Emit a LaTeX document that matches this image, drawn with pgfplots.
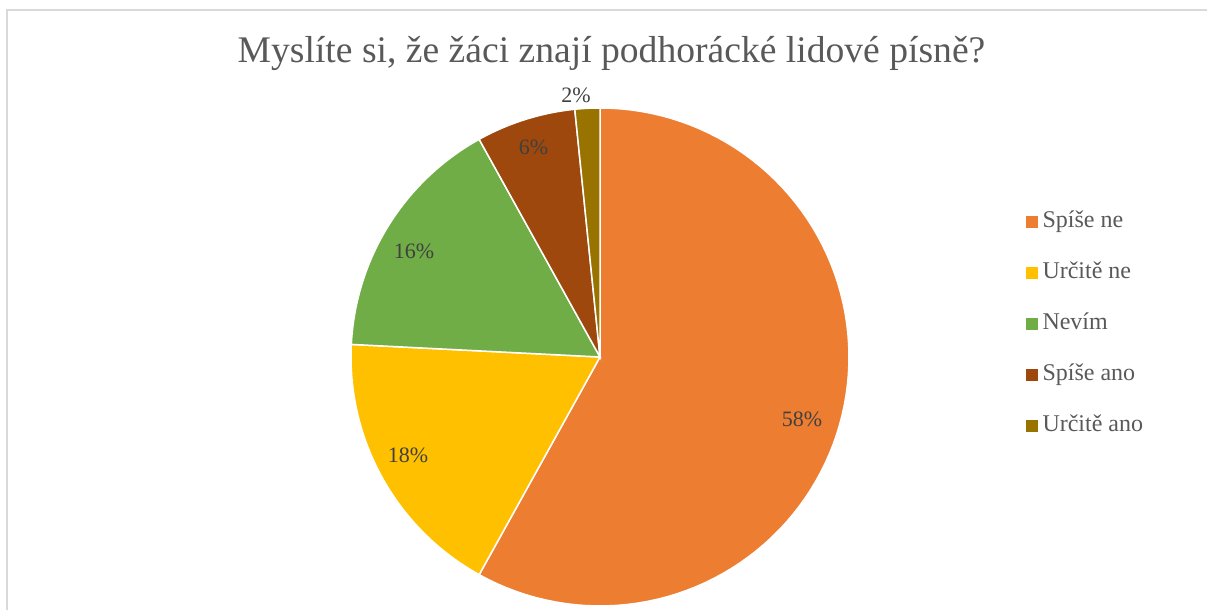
\documentclass[border=0pt]{standalone}
\usepackage{fontspec}
\setmainfont{Liberation Serif}
\usepackage{pgfplots}
\usepackage{pgfplotstable}
\pgfplotsset{compat=1.18}
\definecolor{c0}{HTML}{ED7D31}
\definecolor{c1}{HTML}{FFC000}
\definecolor{c2}{HTML}{70AD47}
\definecolor{c3}{HTML}{9E480E}
\definecolor{c4}{HTML}{997300}
\definecolor{txt}{HTML}{595959}
\definecolor{lbl}{HTML}{404040}
\definecolor{frame}{HTML}{D9D9D9}
% label: category; count: answers; pct: shown percent; lx, lb: label position (px, baseline)
\pgfplotstableread[col sep=comma]{
label,count,pct,lx,lb
Spíše ne,36,58,802,183
Určitě ne,11,18,408,147.3
Nevím,10,16,414,351.3
Spíše ano,4,6,533.5,455
Určitě ano,1,2,576,507.3
}\piedata
\def\total{0}%
\pgfplotsforeachungrouped \i in {0,...,4}{%
  \pgfplotstablegetelem{\i}{count}\of\piedata
  \pgfmathsetmacro\total{\total+\pgfplotsretval}%
}%
\def\cum{0}%
\pgfplotsforeachungrouped \i in {0,...,4}{%
  \pgfplotstablegetelem{\i}{count}\of\piedata
  \pgfmathsetmacro\a{90-360*(\cum/\total)}%
  \pgfmathsetmacro\cum{\cum+\pgfplotsretval}%
  \pgfmathsetmacro\b{90-360*(\cum/\total)}%
  \expandafter\xdef\csname sa\i\endcsname{\a}%
  \expandafter\xdef\csname sb\i\endcsname{\b}%
  \pgfplotstablegetelem{\i}{pct}\of\piedata
  \expandafter\xdef\csname pc\i\endcsname{\pgfplotsretval}%
  \pgfplotstablegetelem{\i}{lx}\of\piedata
  \expandafter\xdef\csname lx\i\endcsname{\pgfplotsretval}%
  \pgfplotstablegetelem{\i}{lb}\of\piedata
  \expandafter\xdef\csname lb\i\endcsname{\pgfplotsretval}%
  \pgfplotstablegetelem{\i}{label}\of\piedata
  \expandafter\xdef\csname nm\i\endcsname{\pgfplotsretval}%
}%
\begin{document}
\begin{tikzpicture}
\begin{axis}[
  scale only axis, width=603.5pt, height=305pt,
  xmin=0, xmax=1207, ymin=0, ymax=610,
  enlargelimits=false, hide axis, clip=false,
  legend image code/.code={\path[#1, draw=none] (0pt,0pt) rectangle (6pt,6pt);},
  legend style={draw=none, fill=none, inner sep=0pt, outer sep=0pt,
    at={(axis cs:1025.5,400)}, anchor=north west,
    font=\fontsize{12}{14}\selectfont, text=txt,
    row sep=13.5pt, column sep=2.5pt,
    nodes={inner sep=0pt, text height=9pt, text depth=3pt, anchor=base west}},
  legend cell align=left,
]
\draw[frame, line width=1pt] (axis cs:7,0) -- (axis cs:7,600) -- (axis cs:1207,600);
\pgfplotsinvokeforeach{0,...,4}{
  \addplot[fill=c#1, draw=white, line width=0.75pt, samples=90, variable=\t,
    domain/.expanded={\csname sb#1\endcsname:\csname sa#1\endcsname}]
    ({600+249*cos(\t)},{253+249*sin(\t)}) -- (axis cs:600,253) -- cycle;
  \addlegendentry{\csname nm#1\endcsname}
}
\pgfplotsinvokeforeach{0,...,4}{
  \node[font=\fontsize{11}{13}\selectfont, text=lbl, anchor=base, inner sep=0pt]
    at (axis cs:\csname lx#1\endcsname,\csname lb#1\endcsname) {\csname pc#1\endcsname\%};
}
\node[font=\fontsize{18.8}{22}\selectfont, text=txt, anchor=base, inner sep=0pt]
  at (axis cs:611.5,547) {Myslíte si, že žáci znají podhorácké lidové písně?};
\end{axis}
\pgfresetboundingbox
\path[use as bounding box] (0,0) rectangle (603.5pt,305pt);
\end{tikzpicture}
\end{document}
